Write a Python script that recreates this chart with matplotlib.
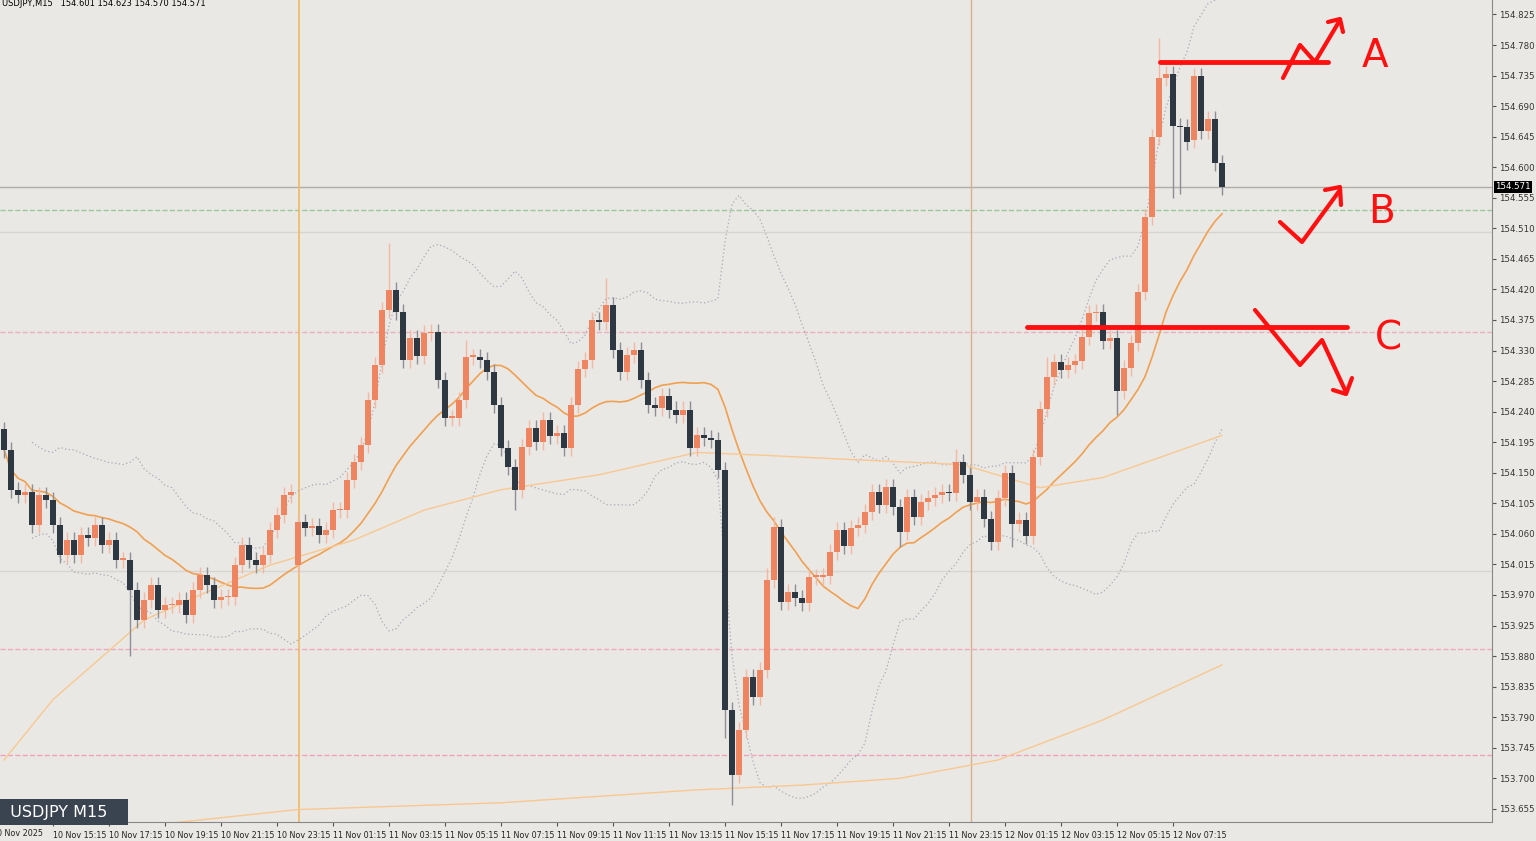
import matplotlib
matplotlib.use("Agg")
import matplotlib.pyplot as plt
import numpy as np
import pandas as pd
from matplotlib.lines import Line2D

closes = [154.184,154.125,154.117,154.122,154.073,154.117,154.110,154.073,154.029,154.051,
154.029,154.058,154.054,154.073,154.044,154.051,154.022,154.022,153.977,153.933,
153.963,153.985,153.948,153.955,153.955,153.963,153.941,153.977,153.999,153.985,
153.963,153.967,153.967,154.014,154.044,154.022,154.014,154.029,154.066,154.088,
154.117,154.122,154.078,154.069,154.072,154.058,154.066,154.095,154.095,154.139,
154.166,154.191,154.257,154.309,154.390,154.419,154.387,154.316,154.349,154.322,
154.356,154.357,154.287,154.231,154.231,154.257,154.321,154.321,154.316,154.298,
154.250,154.186,154.159,154.125,154.188,154.216,154.195,154.228,154.204,154.209,
154.186,154.250,154.303,154.316,154.375,154.372,154.397,154.331,154.298,154.323,
154.331,154.287,154.250,154.245,154.263,154.243,154.235,154.243,154.186,154.206,
154.201,154.198,154.154,153.801,153.705,153.771,153.849,153.820,153.860,153.992,
154.070,153.960,153.974,153.966,153.958,153.997,153.997,153.998,154.033,154.066,
154.042,154.069,154.073,154.092,154.122,154.103,154.129,154.100,154.063,154.114,
154.085,154.107,154.113,154.117,154.122,154.120,154.166,154.147,154.107,154.114,
154.082,154.048,154.113,154.150,154.075,154.080,154.057,154.173,154.244,154.291,
154.313,154.301,154.309,154.315,154.350,154.385,154.387,154.344,154.349,154.270,
154.304,154.341,154.416,154.527,154.645,154.731,154.737,154.661,154.659,154.637,
154.734,154.653,154.671,154.606,154.571]
first_open = 154.215
open_overrides = {42: 154.014, 103: 154.154, 170: 154.640}
high_overrides = {55: 154.488, 86: 154.437, 165: 154.790, 0: 154.225, 66: 154.345,
                  109: 154.010, 110: 154.085, 136: 154.185, 149: 154.320, 153: 154.325}
low_overrides = {104: 153.660, 18: 153.880, 73: 154.095, 167: 154.555, 168: 154.560,
                 159: 154.235, 103: 153.760, 128: 154.040, 144: 154.040}
default_wick = 0.012

ma50_idx = [0, 7, 20, 28, 38, 50, 60, 71, 85, 99, 108, 122, 137, 148, 157, 174]
ma50_val = [153.727, 153.816, 153.933, 153.970, 154.014, 154.051, 154.095, 154.125,
            154.147, 154.180, 154.176, 154.169, 154.162, 154.128, 154.143, 154.205]
ma200_idx = [21, 42, 71, 99, 114, 128, 142, 157, 174]
ma200_val = [153.631, 153.654, 153.664, 153.683, 153.690, 153.700, 153.727, 153.786, 153.867]

x_labels = ["10 Nov 15:15","10 Nov 17:15","10 Nov 19:15","10 Nov 21:15","10 Nov 23:15",
            "11 Nov 01:15","11 Nov 03:15","11 Nov 05:15","11 Nov 07:15","11 Nov 09:15",
            "11 Nov 11:15","11 Nov 13:15","11 Nov 15:15","11 Nov 17:15","11 Nov 19:15",
            "11 Nov 21:15","11 Nov 23:15","12 Nov 01:15","12 Nov 03:15","12 Nov 05:15",
            "12 Nov 07:15"]
y_ticks = [round(153.655 + 0.045 * k, 3) for k in range(27)]
hlines = [(154.571, "#b0aca8", "-"), (154.537, "#9cc79c", "--"), (154.357, "#e8b0c0", "--"),
          (154.505, "#d8d4d0", "-"), (154.005, "#d8d4d0", "-"), (153.891, "#f0a8c0", "--"),
          (153.734, "#f0a0c0", "--")]

BG = "#eae8e4"; BULL = "#ef8560"; BEAR = "#2e3843"
n = len(closes)
opens = [first_open] + closes[:-1]
for k, v in open_overrides.items():
    opens[k] = v
highs = [max(o, c) + default_wick for o, c in zip(opens, closes)]
lows = [min(o, c) - default_wick for o, c in zip(opens, closes)]
for k, v in high_overrides.items(): highs[k] = v
for k, v in low_overrides.items(): lows[k] = v

fig = plt.figure(figsize=(15.36, 8.41), dpi=100, facecolor=BG)
ax = fig.add_axes([0, 19/841, 1492/1536, 822/841], facecolor=BG)
ymax = 154.780 + 45/679; ymin = 154.780 - 777/679
ax.set_ylim(ymin, ymax); ax.set_xlim(-4/7, 1488/7)

for p, c, ls in hlines:
    ax.axhline(p, color=c, ls=ls, lw=1, zorder=1)
ax.axvline(42.15, color="#f2b860", lw=1.2, zorder=1)
ax.axvline(138.15, color="#d8b090", lw=1, zorder=1)

s = pd.Series(closes)
ma20 = s.rolling(20, min_periods=1).mean()
sd = s.rolling(20, min_periods=5).std(ddof=0)
x = np.arange(n)
ax.plot(x, ma20 + 2*sd, color="#a8a8b8", ls=(0, (1, 2)), lw=0.9, zorder=2)
ax.plot(x, ma20 - 2*sd, color="#a8a8b8", ls=(0, (1, 2)), lw=0.9, zorder=2)
ax.plot(x, ma20, color="#f0a050", lw=1.2, zorder=2)
ax.plot(ma50_idx, ma50_val, color="#f8c890", lw=1, zorder=2)
ax.plot(ma200_idx, ma200_val, color="#f8c890", lw=1, zorder=2)

for i in range(n):
    o, c = opens[i], closes[i]
    col = BULL if c >= o else BEAR
    wcol = "#f4b8a0" if c >= o else "#8c9096"
    ax.vlines(i, lows[i], highs[i], color=wcol, lw=1, zorder=3)
    ax.bar(i, max(abs(c - o), 0.002), bottom=min(o, c), width=0.72, color=col, zorder=4, linewidth=0)

ax.yaxis.tick_right()
ax.set_yticks(y_ticks)
ax.set_yticklabels([f"{v:.3f}" for v in y_ticks], fontsize=6.2, color="#333")
ax.tick_params(axis="y", length=3, pad=2, colors="#555", labelcolor="#333")
ax.set_xticks([7 + 8*k for k in range(len(x_labels))])
ax.set_xticklabels([""]*len(x_labels))
ax.tick_params(axis="x", length=3, colors="#555")
for k, lab in enumerate(x_labels):
    ax.text(7 + 8*k, -0.011, lab, transform=ax.get_xaxis_transform(), fontsize=5.8,
            ha="left", va="top", color="#222")
fig.text(-8/1536, 1 - 833/841, "10 Nov 2025", fontsize=5.8, ha="left", va="center", color="#222")
for sp in ["top", "left"]:
    ax.spines[sp].set_visible(False)
ax.spines["right"].set_color("#888"); ax.spines["bottom"].set_color("#888")

ax.text(1.002, 154.571, "154.571", transform=ax.get_yaxis_transform(), fontsize=6.2, color="white",
        va="center", ha="left", bbox=dict(boxstyle="square,pad=0.15", fc="black", ec="none"))
fig.text(2/1536, 1 - 3/841, "USDJPY,M15   154.601 154.623 154.570 154.571", fontsize=6, va="center")
fig.text(0, 1 - 812/841, "  USDJPY M15   ", fontsize=11.5, color="white", va="center",
         bbox=dict(boxstyle="square,pad=0.35", fc="#3a4450", ec="none"))

def pline(pts, lw=3):
    xs = [p[0]/1536 for p in pts]; ys = [1 - p[1]/841 for p in pts]
    fig.add_artist(Line2D(xs, ys, color="#ff1010", lw=lw, solid_capstyle="round",
                          solid_joinstyle="round"))

pline([(1160, 62), (1328, 62)], 3.5)
pline([(1283, 78), (1300, 45), (1315, 62), (1340, 20)])
pline([(1328, 22), (1340, 19), (1343, 32)])
pline([(1280, 222), (1302, 242), (1340, 190)])
pline([(1325, 190), (1340, 187), (1341, 205)])
pline([(1027, 327), (1347, 327)], 3.5)
pline([(1255, 310), (1300, 365), (1322, 340), (1345, 390)])
pline([(1333, 390), (1346, 394), (1352, 378)])
for t, px, py in [("A", 1375, 56), ("B", 1382, 212), ("C", 1388, 338)]:
    fig.text(px/1536, 1 - py/841, t, fontsize=28, color="#ff1010", ha="center", va="center")

fig.savefig("out.png", dpi=100, facecolor=BG)
